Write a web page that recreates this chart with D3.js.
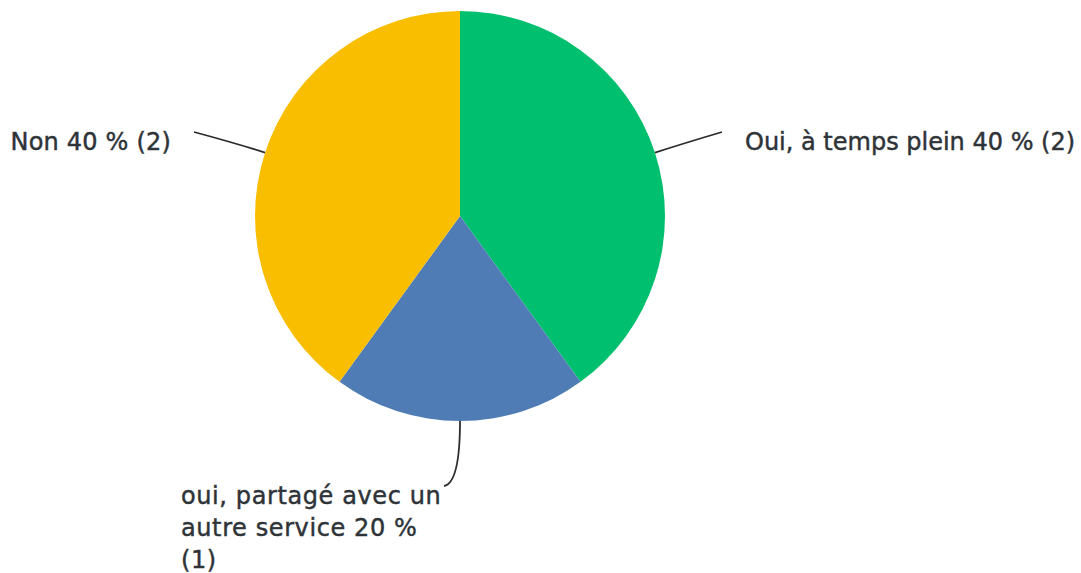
<!DOCTYPE html>
<html>
<head>
<meta charset="utf-8">
<script src="https://cdn.jsdelivr.net/npm/d3@7"></script>
<style>
  html, body { margin: 0; padding: 0; background: #fff; }
  svg { display: block; }
</style>
</head>
<body>
<svg id="chart" width="1081" height="573"></svg>
<script>
// ---- data ----
const categories = ["Oui, à temps plein", "oui, partagé avec un autre service", "Non"];
const percents = [40, 20, 40];
const counts = [2, 1, 2];
const colors = ["#00BF6F", "#507CB6", "#F9BE00"];

// ---- layout ----
const cx = 460, cy = 216, R = 205;
const svg = d3.select("#chart");
const g = svg.append("g").attr("transform", `translate(${cx},${cy})`);

const pie = d3.pie().sort(null).value(d => d.v);
const data = categories.map((c, i) => ({ c, v: percents[i], n: counts[i], col: colors[i] }));
const arcs = pie(data);
const arc = d3.arc().innerRadius(0).outerRadius(R);

g.selectAll("path.slice").data(arcs).enter().append("path")
  .attr("class", "slice")
  .attr("d", arc)
  .attr("fill", d => d.data.col);

// leader lines & labels
const labelCfg = [
  { end: [722 - cx, 132 - cy], ctrlR: R + 28, tx: 745, ty: 150, anchor: "start", lines: null, ls: 0 },
  { end: [444 - cx, 486 - cy], ctrlR: R + 62, tx: 181, ty: 504, anchor: "start", lines: ["oui, partagé avec un", "autre service 20 %", "(1)"], ls: 0.6 },
  { end: [194 - cx, 132 - cy], ctrlR: R + 28, tx: 171, ty: 150, anchor: "end", lines: null, ls: 0.2 }
];

arcs.forEach((a, i) => {
  const cfg = labelCfg[i];
  const mid = (a.startAngle + a.endAngle) / 2;
  const sx = Math.sin(mid) * R, sy = -Math.cos(mid) * R;
  const qx = Math.sin(mid) * cfg.ctrlR, qy = -Math.cos(mid) * cfg.ctrlR;
  const p = d3.path();
  p.moveTo(sx, sy);
  p.quadraticCurveTo(qx, qy, cfg.end[0], cfg.end[1]);
  g.append("path").attr("d", p.toString())
    .attr("fill", "none").attr("stroke", "#2b2b2b").attr("stroke-width", 1.8);

  const lines = cfg.lines || [`${a.data.c} ${a.data.v} % (${a.data.n})`];
  const t = svg.append("text")
    .attr("x", cfg.tx).attr("y", cfg.ty)
    .attr("text-anchor", cfg.anchor)
    .attr("font-family", "DejaVu Sans, sans-serif")
    .attr("font-size", 24)
    .attr("letter-spacing", cfg.ls)
    .attr("fill", "#2e3338")
    .attr("stroke", "#2e3338")
    .attr("stroke-width", 0.45);
  lines.forEach((ln, k) => {
    t.append("tspan").attr("x", cfg.tx).attr("dy", k === 0 ? 0 : 32).text(ln);
  });
});
</script>
</body>
</html>
